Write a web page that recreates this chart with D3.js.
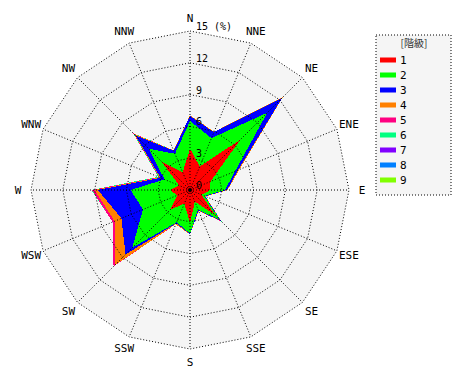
<!DOCTYPE html>
<html>
<head>
<meta charset="utf-8">
<script src="https://cdn.jsdelivr.net/npm/d3@7"></script>
<style>
  body { margin: 0; background: #fff; }
  svg text { font-family: "DejaVu Sans Mono", monospace; font-size: 10px; fill: #000; }
</style>
</head>
<body>
<div id="chart"></div>
<script>
// Wind rose: frequency (%) by direction, stacked by class
const directions = ['N', 'NNE', 'NE', 'ENE', 'E', 'ESE', 'SE', 'SSE',
                    'S', 'SSW', 'SW', 'WSW', 'W', 'WNW', 'NW', 'NNW'];
const classes = ['1', '2', '3', '4', '5', '6', '7', '8', '9'];
const classColors = ['#ff0000', '#00ff00', '#0000ff', '#ff8000', '#ff0080',
                     '#00ff80', '#8000ff', '#0080ff', '#80ff00'];
const ringTicks = [0, 3, 6, 9, 12, 15];

// share of each class per direction (%), N..NNW
const class1 = [3.9, 2.4, 6.7, 2.1, 1.9, 1.2, 3.3, 1.2, 3.1, 1.4, 2.6, 1.3, 1.9, 1.1, 3.8, 1.8];
const class2 = [2.6, 2.9, 3.6, 2.5, 1.4, 0.25, 0.7, 0.8, 1.0, 1.9, 5.1, 3.5, 3.7, 1.5, 1.7, 1.9];
const class3 = [0.5, 0.6, 2.0, 0.3, 0.2, 0.1, 0.1, 0.1, 0.05, 0.1, 0.9, 2.2, 3.1, 0.4, 1.8, 0.3];
const class4 = [0.05, 0.05, 0.1, 0.15, 0.05, 0.05, 0.05, 0.05, 0.05, 0.1, 1.4, 0.7, 0.3, 0.1, 0.2, 0.05];
const class5 = [0, 0, 0, 0, 0, 0, 0.05, 0, 0, 0, 0.2, 0.2, 0.25, 0.05, 0.05, 0];
const class6 = [0, 0, 0, 0, 0, 0, 0.05, 0, 0, 0, 0, 0, 0.05, 0.1, 0.05, 0];
const class7 = [0, 0, 0, 0, 0, 0, 0, 0, 0, 0, 0, 0, 0, 0, 0, 0];
const class8 = [0, 0, 0, 0, 0, 0, 0, 0, 0, 0, 0, 0, 0, 0, 0, 0];
const class9 = [0, 0, 0, 0, 0, 0, 0, 0, 0, 0, 0, 0, 0, 0, 0, 0];
const classValues = [class1, class2, class3, class4, class5, class6, class7, class8, class9];

const width = 470, height = 380;
const cx = 190, cy = 190;
const maxR = 159;

const svg = d3.select('#chart').append('svg')
    .attr('width', width)
    .attr('height', height);

const g = svg.append('g').attr('transform', `translate(${cx},${cy})`);

const r = d3.scaleLinear().domain([0, 15]).range([0, maxR]);
const angle = d3.scalePoint().domain(directions).range([0, 2 * Math.PI * 15 / 16]);

// table for the stack: one row per direction
const rows = directions.map((dir, i) => {
    const row = { dir };
    classes.forEach((c, k) => { row[c] = classValues[k][i]; });
    return row;
});
const series = d3.stack().keys(classes)(rows);

const radial = d3.lineRadial()
    .curve(d3.curveLinearClosed);

// background 16-gon
g.append('path')
    .attr('d', radial.angle(d => angle(d)).radius(r(15))(directions))
    .attr('fill', '#f5f5f5');

// stacked areas: outermost class first
const dataLine = d3.lineRadial()
    .angle(d => angle(d.data.dir))
    .radius(d => r(d[1]))
    .curve(d3.curveLinearClosed);

g.selectAll('.band')
    .data(series.slice().reverse())
    .join('path')
    .attr('class', 'band')
    .attr('d', s => dataLine(s))
    .attr('fill', s => classColors[classes.indexOf(s.key)])
    .attr('shape-rendering', 'crispEdges');

// grid rings
const ringLine = d3.lineRadial().angle(d => angle(d)).curve(d3.curveLinearClosed);
g.selectAll('.ring')
    .data(ringTicks.filter(t => t > 0))
    .join('path')
    .attr('class', 'ring')
    .attr('d', t => ringLine.radius(r(t))(directions))
    .attr('fill', 'none')
    .attr('stroke', '#000')
    .attr('stroke-dasharray', '1,2');

// spokes
g.selectAll('.spoke')
    .data(directions)
    .join('line')
    .attr('class', 'spoke')
    .attr('x1', 0).attr('y1', 0)
    .attr('x2', d => r(15) * Math.sin(angle(d)))
    .attr('y2', d => -r(15) * Math.cos(angle(d)))
    .attr('stroke', '#000')
    .attr('stroke-dasharray', '1,2');

g.append('circle').attr('r', 2).attr('fill', '#000');

// ring values
g.selectAll('.tick')
    .data(ringTicks)
    .join('text')
    .attr('class', 'tick')
    .attr('x', 6)
    .attr('y', t => -r(t) - 1)
    .text(t => t === 15 ? '15 (%)' : t);

// direction labels
g.selectAll('.dir')
    .data(directions)
    .join('text')
    .attr('class', 'dir')
    .attr('x', d => 172 * Math.sin(angle(d)))
    .attr('y', d => -172 * Math.cos(angle(d)))
    .attr('text-anchor', 'middle')
    .attr('dominant-baseline', 'central')
    .style('font-size', '11px')
    .text(d => d);

// legend
const legend = svg.append('g').attr('transform', 'translate(376,35)');
legend.append('rect')
    .attr('width', 75).attr('height', 160)
    .attr('fill', '#f5f5f5')
    .attr('stroke', '#000')
    .attr('stroke-dasharray', '1,2');
legend.append('text')
    .attr('x', 38).attr('y', 12)
    .attr('text-anchor', 'middle')
    .style('font-family', '"Noto Sans CJK JP", sans-serif')
    .style('font-size', '10px')
    .style('fill', '#333')
    .text('[階級]');

const item = legend.selectAll('.item')
    .data(classes)
    .join('g')
    .attr('class', 'item')
    .attr('transform', (d, i) => `translate(4,${25 + i * 15})`);
item.append('rect')
    .attr('width', 16).attr('height', 5)
    .attr('y', -2.5)
    .attr('fill', (d, i) => classColors[i]);
item.append('text')
    .attr('x', 20)
    .attr('dominant-baseline', 'central')
    .style('font-size', '11px')
    .text(d => d);
</script>
</body>
</html>
